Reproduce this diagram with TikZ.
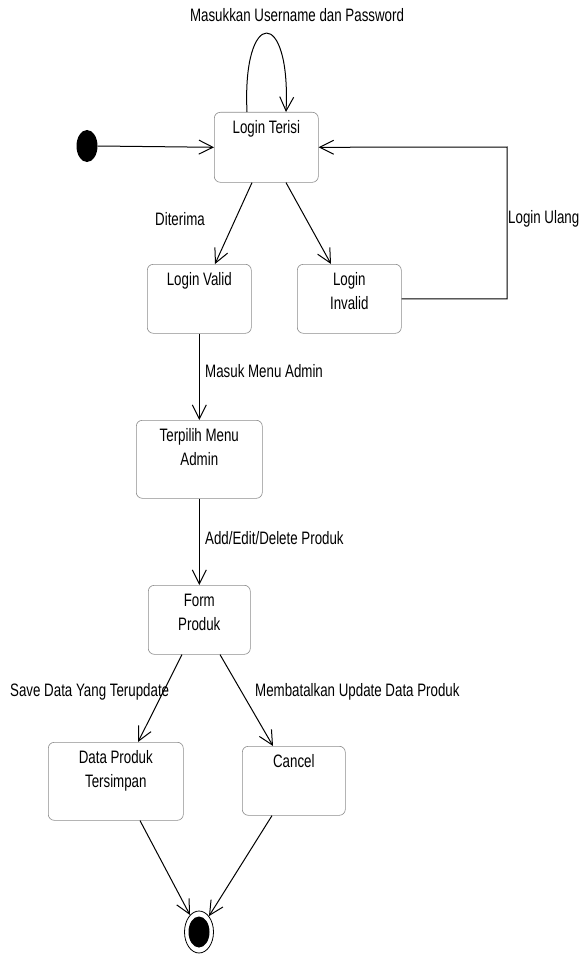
\documentclass[tikz,border=0pt]{standalone}
\usepackage{fontspec}
\setmainfont{Liberation Sans}[FakeStretch=0.74]
\usetikzlibrary{arrows.meta,shapes.geometric}

\begin{document}
\begin{tikzpicture}[x=1pt,y=-1pt,
  font=\fontsize{18}{24}\selectfont,
  state/.style={draw=black!45,line width=0.6pt,rounded corners=6pt,anchor=north west,inner sep=0pt},
  inside/.style={anchor=north,inner sep=0pt,yshift=-8.5pt,align=center},
  flow/.style={line width=1pt,-{Straight Barb[length=14pt,width=14pt,line width=1pt]}},
  tag/.style={inner sep=0pt}]
\useasboundingbox (0,0) rectangle (580,955);
  % states
  \node[ellipse,fill,inner sep=0pt,minimum width=21pt,minimum height=32pt] (start) at (87,146) {};
  \node[state,minimum width=104pt,minimum height=70pt] (terisi) at (214,112) {};
  \node[inside] (terisiText) at (terisi.north) {Login Terisi};
  \node[state,minimum width=104pt,minimum height=69pt] (valid) at (147,264) {};
  \node[inside] (validText) at (valid.north) {Login Valid};
  \node[state,minimum width=104pt,minimum height=69pt] (invalid) at (297,264) {};
  \node[inside] (invalidText) at (invalid.north) {Login\\Invalid};
  \node[state,minimum width=126pt,minimum height=78pt] (admin) at (136,420) {};
  \node[inside] (adminText) at (admin.north) {Terpilih Menu\\Admin};
  \node[state,minimum width=102pt,minimum height=69pt] (form) at (148,585) {};
  \node[inside] (formText) at (form.north) {Form\\Produk};
  \node[state,minimum width=135pt,minimum height=78pt] (data) at (48,742) {};
  \node[inside] (dataText) at (data.north) {Data Produk\\Tersimpan};
  \node[state,minimum width=103pt,minimum height=69pt] (cancel) at (242,746) {};
  \node[inside] (cancelText) at (cancel.north) {Cancel};
  \node[ellipse,draw,line width=0.8pt,inner sep=0pt,minimum width=29pt,minimum height=42pt] (final) at (199,932) {};
  \node[ellipse,fill,inner sep=0pt,minimum width=21pt,minimum height=31pt] (finalDot) at (final) {};
  % transitions
  \draw[flow] (start.east) -- (terisi.west);
  \draw[flow] ([xshift=33pt]terisi.north west) .. controls +(-5,-105) and +(5,-105) .. ([xshift=72pt]terisi.north west);
  \draw[flow] ([xshift=38pt]terisi.south west) -- ([xshift=68pt]valid.north west);
  \draw[flow] ([xshift=72pt]terisi.south west) -- ([xshift=34pt]invalid.north west);
  \coordinate (ulang) at (507,147);
  \draw[flow] (invalid.east) -| (ulang) -- (terisi.east);
  \draw[flow] (valid.south) -- (admin.north);
  \draw[flow] (admin.south) -- (form.north);
  \draw[flow] ([xshift=34pt]form.south west) -- ([xshift=90pt]data.north west);
  \draw[flow] ([xshift=72pt]form.south west) -- ([xshift=31pt]cancel.north west);
  \draw[flow] ([xshift=92pt]data.south west) -- (final);
  \draw[flow] ([xshift=30pt]cancel.south west) -- (final);
  % labels
  \node[tag] (lblLoop) at (297,15) {Masukkan Username dan Password};
  \node[tag] (lblTerima) at (180,219) {Diterima};
  \node[tag,anchor=west] (lblUlang) at (508,219) {Login Ulang};
  \node[tag,anchor=west] (lblMenu) at (205,371) {Masuk Menu Admin};
  \node[tag,anchor=west] (lblProduk) at (205,538) {Add/Edit/Delete Produk};
  \node[tag,anchor=west] (lblSave) at (10,692) {Save Data Yang Terupdate};
  \node[tag,anchor=west] (lblBatal) at (255,692) {Membatalkan Update Data Produk};
\end{tikzpicture}
\end{document}
